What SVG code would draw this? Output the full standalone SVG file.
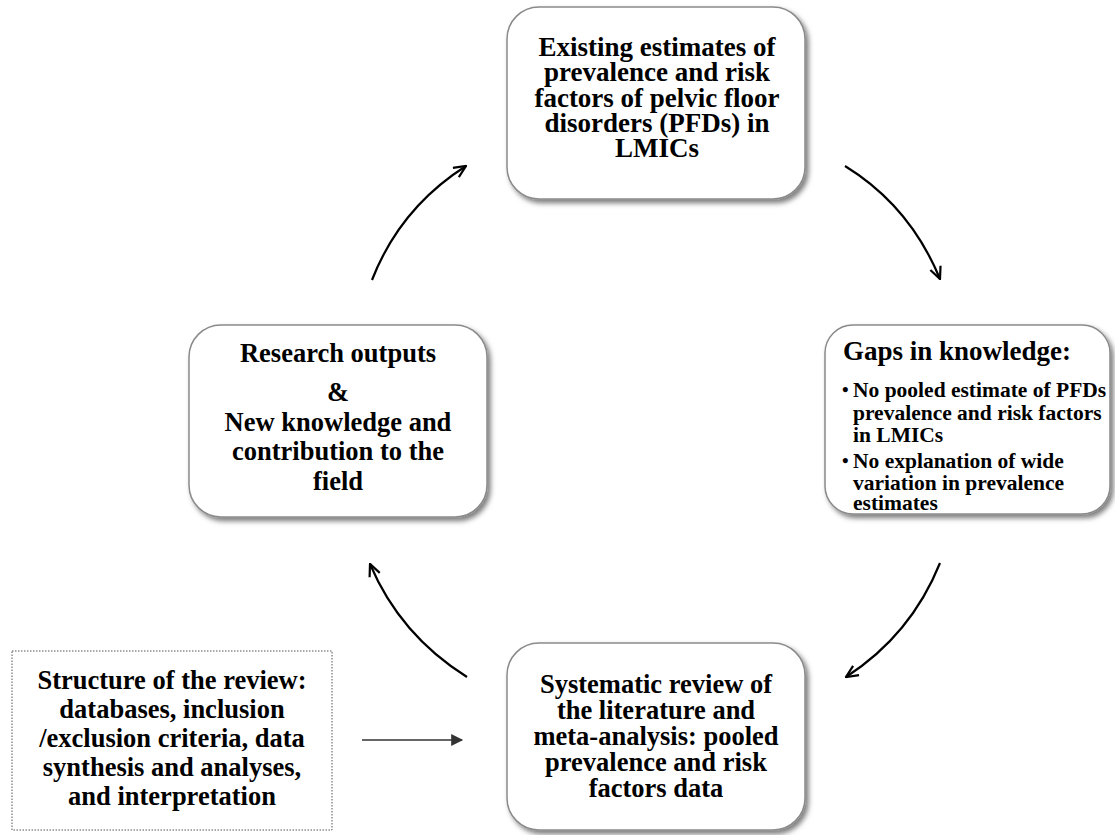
<svg xmlns="http://www.w3.org/2000/svg" width="1115" height="835" viewBox="0 0 1115 835">
<defs>
<filter id="sh" x="-10%" y="-10%" width="125%" height="125%">
<feDropShadow dx="3" dy="3.5" stdDeviation="2.5" flood-color="#000" flood-opacity="0.5"/>
</filter>
<marker id="open" viewBox="0 0 14 14" refX="13" refY="7" markerWidth="14" markerHeight="14" markerUnits="userSpaceOnUse" orient="auto">
<path d="M1,1.5 L13,7 L1,12.5" fill="none" stroke="#000" stroke-width="2.2"/>
</marker>
<marker id="tri" viewBox="0 0 10 10" refX="9" refY="5" markerWidth="15" markerHeight="12" markerUnits="userSpaceOnUse" orient="auto">
<path d="M0,0 L10,5 L0,10 Z" fill="#333"/>
</marker>
<style>
.box{fill:#fff;stroke:#8a8a8a;stroke-width:1.5;filter:url(#sh)}
.t{font-family:"Liberation Serif","Times New Roman",serif;font-weight:bold;font-size:26.5px;fill:#000;text-anchor:middle}
.big{font-size:27px}
.b{font-family:"Liberation Serif","Times New Roman",serif;font-weight:bold;font-size:21.5px;fill:#000}
.dot{font-family:"Liberation Serif","Times New Roman",serif;font-weight:bold;font-size:19px;fill:#000}
.c{fill:none;stroke:#000;stroke-width:2.2;marker-end:url(#open)}
</style>
</defs>
<g id="n-existing">
<rect class="box" x="507" y="7" width="298" height="192" rx="32"/>
<text class="t big" x="657" y="56">Existing estimates of</text>
<text class="t big" x="657" y="81">prevalence and risk</text>
<text class="t big" x="657" y="107">factors of pelvic floor</text>
<text class="t big" x="657" y="132">disorders (PFDs) in</text>
<text class="t big" x="657" y="157">LMICs</text>
</g>
<g id="n-gaps">
<rect class="box" x="825" y="325" width="285" height="189" rx="28"/>
<text class="t big" x="843" y="360" style="text-anchor:start">Gaps in knowledge:</text>
<text class="dot" x="842" y="396">•</text>
<text class="b" x="853" y="397">No pooled estimate of PFDs</text>
<text class="b" x="853" y="420">prevalence and risk factors</text>
<text class="b" x="853" y="442">in LMICs</text>
<text class="dot" x="842" y="467">•</text>
<text class="b" x="853" y="468">No explanation of wide</text>
<text class="b" x="853" y="490">variation in prevalence</text>
<text class="b" x="853" y="510">estimates</text>
</g>
<g id="n-research">
<rect class="box" x="189" y="325" width="298" height="192" rx="32"/>
<text class="t" x="338" y="362">Research outputs</text>
<text class="t" x="338" y="401">&amp;</text>
<text class="t" x="338" y="431">New knowledge and</text>
<text class="t" x="338" y="460">contribution to the</text>
<text class="t" x="338" y="490">field</text>
</g>
<g id="n-systematic">
<rect class="box" x="507" y="643" width="298" height="187" rx="32"/>
<text class="t" x="656" y="693">Systematic review of</text>
<text class="t" x="656" y="719">the literature and</text>
<text class="t" x="656" y="745">meta-analysis: pooled</text>
<text class="t" x="656" y="771">prevalence and risk</text>
<text class="t" x="656" y="797">factors data</text>
</g>
<g id="n-structure">
<rect x="12" y="651" width="320" height="179" fill="#fff" stroke="#555" stroke-width="1" stroke-dasharray="1.5,1.5"/>
<text class="t" x="172" y="689">Structure of the review:</text>
<text class="t" x="172" y="718">databases, inclusion</text>
<text class="t" x="172" y="747">/exclusion criteria, data</text>
<text class="t" x="172" y="776">synthesis and analyses,</text>
<text class="t" x="172" y="805">and interpretation</text>
</g>
<g id="connectors">
<path class="c" d="M372,280 Q400,208 466,166"/>
<path class="c" d="M845,166 Q910,206 940,279"/>
<path class="c" d="M940,563 Q911,635 846,677"/>
<path class="c" d="M467,677 Q400,635 370,564"/>
<path d="M362,740 L462,740" stroke="#333" stroke-width="1.6" fill="none" marker-end="url(#tri)"/>
</g>
</svg>
